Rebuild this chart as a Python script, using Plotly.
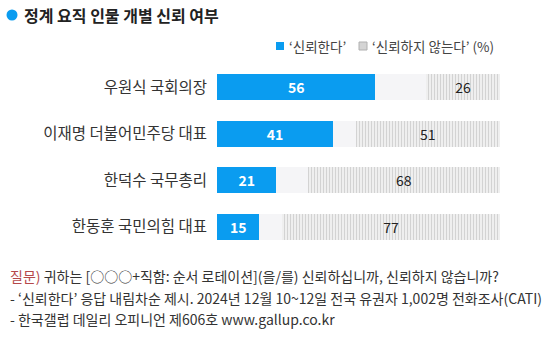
import plotly.graph_objects as go

# Survey data (%)
names = ["우원식 국회의장", "이재명 더불어민주당 대표", "한덕수 국무총리", "한동훈 국민의힘 대표"]
trust = [56, 41, 21, 15]
no_answer = [18, 8, 11, 8]
distrust = [26, 51, 68, 77]
legend_labels = ["‘신뢰한다’", "‘신뢰하지 않는다’"]

FONT = "Noto Sans CJK KR"
BLUE = "#0a9cf0"
HATCH_BG = "#f2f2f2"
HATCH_FG = "#b4b4b4"

PW, PH = 283, 186  # plot area size in pixels


def px_x(px):
    return (px - 217) / PW


def px_y(py):
    return 1 - (py - 64) / PH


fig = go.Figure()
fig.add_trace(go.Bar(
    y=names, x=trust, orientation="h", name=legend_labels[0], showlegend=False,
    marker=dict(color=BLUE, line=dict(width=0)),
    text=trust, textposition="inside", insidetextanchor="middle",
    textfont=dict(color="white", size=14, family=FONT, weight="bold"),
))
fig.add_trace(go.Bar(
    y=names, x=no_answer, orientation="h", showlegend=False,
    marker=dict(color="#f5f5f7", line=dict(width=0)),
    hoverinfo="skip",
))
fig.add_trace(go.Bar(
    y=names, x=distrust, orientation="h", name=legend_labels[1], showlegend=False,
    marker=dict(color=HATCH_BG, line=dict(width=0),
                pattern=dict(shape="|", fgcolor=HATCH_FG, bgcolor=HATCH_BG,
                             size=3, solidity=0.4)),
    text=distrust, textposition="inside", insidetextanchor="middle",
    textfont=dict(color="#222222", size=14, family=FONT),
))

fig.update_layout(
    width=553, height=338,
    margin=dict(l=217, r=53, t=64, b=88),
    barmode="stack", bargap=0.44,
    paper_bgcolor="white", plot_bgcolor="white",
    font=dict(family=FONT, color="#333333", size=14),
    xaxis=dict(range=[0, 100], visible=False, fixedrange=True),
    yaxis=dict(autorange="reversed", showgrid=False, zeroline=False, showline=False,
               ticks="", ticklabelstandoff=9,
               tickfont=dict(size=15.5, color="#333333", family=FONT)),
    showlegend=False,
    uniformtext=dict(minsize=8, mode="show"),
)

# Title with a blue bullet
fig.add_shape(type="circle", xref="paper", yref="paper",
              xsizemode="pixel", ysizemode="pixel",
              xanchor=px_x(12), yanchor=px_y(15),
              x0=-5.5, x1=5.5, y0=-5.5, y1=5.5,
              fillcolor=BLUE, line=dict(width=0))
fig.add_annotation(text="<b>정계 요직 인물 개별 신뢰 여부</b>", xref="paper", yref="paper",
                   x=px_x(22), y=px_y(15), xanchor="left", yanchor="middle",
                   showarrow=False, font=dict(size=16, color="#222222", family=FONT))

# Legend: blue swatch, hatched swatch, unit
leg_y = 46
fig.add_shape(type="rect", xref="paper", yref="paper",
              xsizemode="pixel", ysizemode="pixel",
              xanchor=px_x(280), yanchor=px_y(leg_y),
              x0=-4, x1=4, y0=-4, y1=4,
              fillcolor=BLUE, line=dict(width=0))
fig.add_annotation(text=legend_labels[0], xref="paper", yref="paper",
                   x=px_x(287), y=px_y(leg_y), xanchor="left", yanchor="middle",
                   showarrow=False, font=dict(size=13.5, color="#444444", family=FONT))
fig.add_shape(type="rect", xref="paper", yref="paper",
              xsizemode="pixel", ysizemode="pixel",
              xanchor=px_x(363), yanchor=px_y(leg_y),
              x0=-4, x1=4, y0=-4, y1=4,
              fillcolor="#d4d4d4", line=dict(width=1, color="#b0b0b0"))
fig.add_annotation(text=legend_labels[1] + " (%)", xref="paper", yref="paper",
                   x=px_x(370), y=px_y(leg_y), xanchor="left", yanchor="middle",
                   showarrow=False, font=dict(size=13.5, color="#444444", family=FONT))

# Footnotes
notes = [
    "<span style='color:#b5484a'>질문)</span> 귀하는 [○○○+직함: 순서 로테이션](을/를) 신뢰하십니까, 신뢰하지 않습니까?",
    "- ‘신뢰한다’ 응답 내림차순 제시. 2024년 12월 10~12일 전국 유권자 1,002명 전화조사(CATI)",
    "- 한국갤럽 데일리 오피니언 제606호 www.gallup.co.kr",
]
for i, t in enumerate(notes):
    fig.add_annotation(text=t, xref="paper", yref="paper",
                       x=px_x(8), y=px_y(276 + 21.5 * i),
                       xanchor="left", yanchor="middle", showarrow=False,
                       font=dict(size=14, color="#333333", family=FONT))

fig.write_html("out.html")
